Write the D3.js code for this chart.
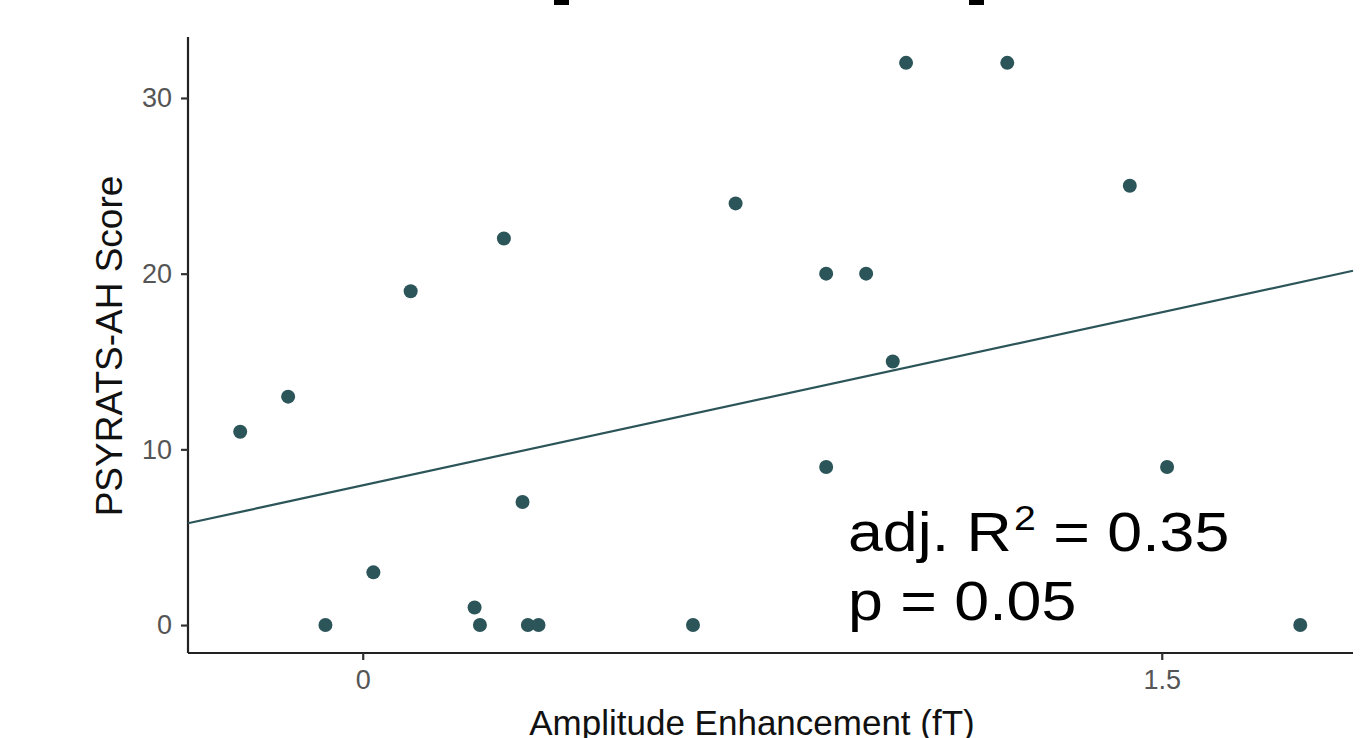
<!DOCTYPE html>
<html>
<head>
<meta charset="utf-8">
<script src="https://cdn.jsdelivr.net/npm/d3@7"></script>
<style>
  body { margin: 0; background: #fff; }
  svg { display: block; font-family: "Liberation Sans", Arial, sans-serif; }
</style>
</head>
<body>
<svg></svg>
<script>
// amplitude enhancement (fT) vs PSYRATS-AH score
const ampValues = [-0.23, -0.14, -0.07, 0.02, 0.09, 0.21, 0.22, 0.265, 0.30, 0.31, 0.33,
                   0.62, 0.70, 0.87, 0.87, 0.945, 0.995, 1.02, 1.21, 1.44, 1.51, 1.76];
const scoreValues = [11, 13, 0, 3, 19, 1, 0, 22, 7, 0, 0,
                     0, 24, 20, 9, 20, 15, 32, 32, 25, 9, 0];
const fitLine = { intercept: 7.95, slope: 6.57 };
const xTicks = [0, 1.5];
const yTicks = [0, 10, 20, 30];
const adjR2 = "0.35";
const pValue = "0.05";

const W = 1372, H = 738;
const svg = d3.select("svg").attr("width", W).attr("height", H);

const panel = { left: 188, right: 1353, top: 37, bottom: 653 };
const x = d3.scaleLinear().domain([-0.328, 1.859]).range([panel.left, panel.right]);
const y = d3.scaleLinear().domain([-1.59, 33.47]).range([panel.bottom, panel.top]);
const col = "#2c5559";

// bits of the cropped title
svg.append("rect").attr("x", 554).attr("y", 0).attr("width", 15).attr("height", 5).attr("fill", "#000");
svg.append("rect").attr("x", 969).attr("y", 0).attr("width", 15).attr("height", 5).attr("fill", "#000");

// axes
const xAxis = svg.append("g")
    .attr("transform", `translate(0,${panel.bottom})`)
    .call(d3.axisBottom(x).tickValues(xTicks).tickFormat(d3.format("")).tickSize(7).tickPadding(10));
const yAxis = svg.append("g")
    .attr("transform", `translate(${panel.left},0)`)
    .call(d3.axisLeft(y).tickValues(yTicks).tickSize(7).tickPadding(9));

[xAxis, yAxis].forEach(g => {
    g.select(".domain").attr("stroke", "#222").attr("stroke-width", 2.2);
    g.selectAll(".tick line").attr("stroke", "#333").attr("stroke-width", 2.2);
    g.selectAll(".tick text").attr("fill", "#555").style("font-size", "27px")
        .style("font-family", "'Liberation Sans', Arial, sans-serif");
});
// plain axis lines without outer ticks
xAxis.select(".domain").attr("d", `M${panel.left},0H${panel.right}`);
yAxis.select(".domain").attr("d", `M0,${panel.top}V${panel.bottom}`);

// regression line
const plot = svg.append("g");
const xr = x.domain();
plot.append("line")
    .attr("x1", x(xr[0])).attr("y1", y(fitLine.intercept + fitLine.slope * xr[0]))
    .attr("x2", x(xr[1])).attr("y2", y(fitLine.intercept + fitLine.slope * xr[1]))
    .attr("stroke", col).attr("stroke-width", 2.2);

// points
plot.selectAll("circle")
    .data(ampValues.map((a, i) => [a, scoreValues[i]]))
    .join("circle")
    .attr("cx", d => x(d[0]))
    .attr("cy", d => y(d[1]))
    .attr("r", 7)
    .attr("fill", col);

// axis titles
svg.append("text")
    .attr("x", 752).attr("y", 735)
    .attr("text-anchor", "middle")
    .attr("fill", "#111")
    .style("font-size", "35px")
    .text("Amplitude Enhancement (fT)");

svg.append("text")
    .attr("transform", "translate(122,346) rotate(-90)")
    .attr("text-anchor", "middle")
    .attr("fill", "#111")
    .style("font-size", "37px")
    .text("PSYRATS-AH Score");

// stats annotation (slightly wide lettering, as in the original)
const r2 = svg.append("text")
    .attr("transform", "translate(848,551) scale(1.12,1)")
    .attr("fill", "#000")
    .style("font-size", "56px");
r2.append("tspan").text("adj. R");
r2.append("tspan").attr("dy", -21).attr("dx", 2).style("font-size", "35px").text("2");
r2.append("tspan").attr("dy", 21).text(" = " + adjR2);

svg.append("text")
    .attr("transform", "translate(848,620) scale(1.12,1)")
    .attr("fill", "#000")
    .style("font-size", "56px")
    .text("p = " + pValue);
</script>
</body>
</html>
